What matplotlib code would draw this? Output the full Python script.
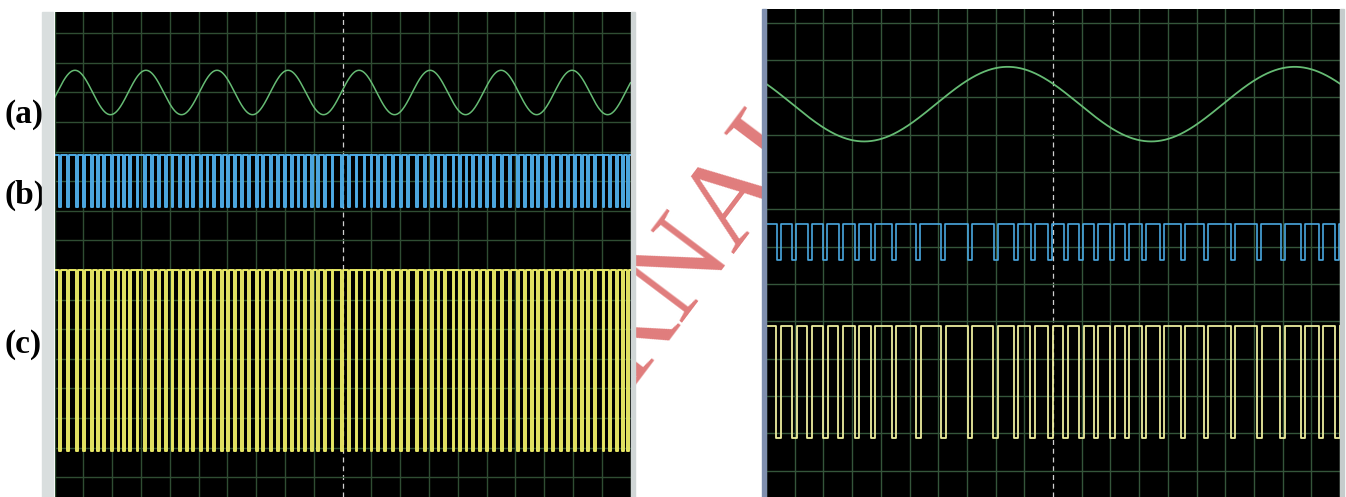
import numpy as np
import matplotlib
matplotlib.use('Agg')
import matplotlib.pyplot as plt
from matplotlib.patches import Rectangle

W, H = 1346, 497

# pulse positions (in horizontal divisions, 0..20)
left_dips = [0.2, 0.48, 0.77, 1.03, 1.29, 1.52, 1.72, 1.99, 2.22, 2.41, 2.62, 2.88,
             3.14, 3.38, 3.64, 3.86, 4.10, 4.36, 4.59, 4.82, 5.08, 5.31, 5.55, 5.81,
             6.03, 6.27, 6.50, 6.75, 7.02, 7.25, 7.52, 7.77, 8.00, 8.24, 8.47, 8.70,
             8.93, 9.16, 9.39, 9.65, 9.97, 10.23, 10.49, 10.76, 11.01, 11.24, 11.48,
             11.76, 12.03, 12.28, 12.58, 12.86, 13.10, 13.33, 13.56, 13.85, 14.08,
             14.31, 14.54, 14.77, 15.01, 15.26, 15.53, 15.82, 16.10, 16.34, 16.57,
             16.80, 17.07, 17.32, 17.58, 17.84, 18.07, 18.31, 18.53, 18.77, 19.06,
             19.29, 19.52, 19.73, 19.92]
right_dips = [0.45, 0.98, 1.53, 2.06, 2.61, 3.17, 3.73, 4.46, 5.30, 6.17, 7.11, 8.01,
              8.71, 9.30, 9.90, 10.45, 10.98, 11.50, 12.06, 12.58, 13.17, 13.80, 14.53,
              15.33, 16.27, 17.18, 18.01, 18.71, 19.34, 19.90]

# sine traces: center, amplitude, period, position of a peak (divisions)
left_sine = [5.0, 0.75, 2.466, 0.71]
right_sine = [3.82, 1.0, 10.0, 8.42]

# high / low levels of the pulse traces (vertical divisions)
left_blue = [2.9, 1.12]
left_yellow = [-1.0, -7.1]
right_blue = [0.6, -0.35]
right_yellow = [-2.12, -5.13]

labels = ['(a)', '(b)', '(c)']
label_y = [115, 195, 345]


def pulse_train(dips, width, high, low):
    xs = [0.0]
    ys = [high]
    for c in dips:
        a, b = c - width / 2, c + width / 2
        xs += [a, a, b, b]
        ys += [high, low, low, high]
    xs.append(20.0)
    ys.append(high)
    return xs, ys


def sine_trace(p):
    t = np.linspace(0, 20, 2000)
    return t, p[0] + p[1] * np.cos(2 * np.pi * (t - p[3]) / p[2])


def scope(ax, ylo, yhi, hlines, grid_color):
    ax.set_facecolor('black')
    ax.set_xlim(0, 20)
    ax.set_ylim(ylo, yhi)
    for k in range(0, 21):
        if k == 10:
            ax.axvline(k, color='#d0d0d0', lw=0.9, ls=(0, (4, 3)), zorder=1)
        else:
            ax.axvline(k, color=grid_color, lw=1.0, zorder=1)
    for v in hlines:
        ax.axhline(v, color=grid_color, lw=1.0, zorder=1)
    ax.set_xticks([])
    ax.set_yticks([])
    for s in ax.spines.values():
        s.set_visible(False)


fig = plt.figure(figsize=(W / 100, H / 100), dpi=100)

# watermark, behind both screens
fig.text(706 / W, 1 - 236 / H, 'RNAL', rotation=53, fontsize=88, color='#e07c7c',
         family='Liberation Serif', ha='center', va='center', zorder=-1)

# left screen
ax1 = fig.add_axes([54.5 / W, 0, 576 / W, 485 / H])
scope(ax1, -8.67, 7.72, range(-8, 8), '#2f4d33')
x, y = sine_trace(left_sine)
ax1.plot(x, y, color='#66bb74', lw=1.1, zorder=3)
x, y = pulse_train(left_dips, 0.06, *left_blue)
ax1.plot(x, y, color='#4eaae4', lw=1.4, zorder=3)
x, y = pulse_train(left_dips, 0.06, *left_yellow)
ax1.plot(x, y, color='#e6e664', lw=1.4, zorder=3)

# right screen
ax2 = fig.add_axes([766 / W, 0, 574 / W, 488 / H])
scope(ax2, -6.71, 6.37, range(-6, 7), '#34553a')
x, y = sine_trace(right_sine)
ax2.plot(x, y, color='#66bb74', lw=1.3, zorder=3)
x, y = pulse_train(right_dips, 0.15, *right_blue)
ax2.plot(x, y, color='#4aa8e0', lw=1.2, zorder=3)
x, y = pulse_train(right_dips, 0.17, *right_yellow)
ax2.plot(x, y, color='#ecec9e', lw=1.3, zorder=3)

# screen frames
fig.patches.append(Rectangle((42 / W, 0), 11 / W, 485 / H, transform=fig.transFigure,
                             color='#d9dede', zorder=2))
fig.patches.append(Rectangle((630.5 / W, 0), 4 / W, 485 / H, transform=fig.transFigure,
                             color='#d0d6d6', zorder=2))
fig.patches.append(Rectangle((762 / W, 0), 4 / W, 488 / H, transform=fig.transFigure,
                             color='#7f8fae', zorder=2))
fig.patches.append(Rectangle((1340 / W, 0), 4 / W, 488 / H, transform=fig.transFigure,
                             color='#c6cccc', zorder=2))

for lab, yy in zip(labels, label_y):
    fig.text(5 / W, 1 - yy / H, lab, fontsize=24, fontweight='bold',
             family='Liberation Serif', ha='left', va='center', zorder=1)

fig.savefig('out.png', dpi=100, facecolor='white')
